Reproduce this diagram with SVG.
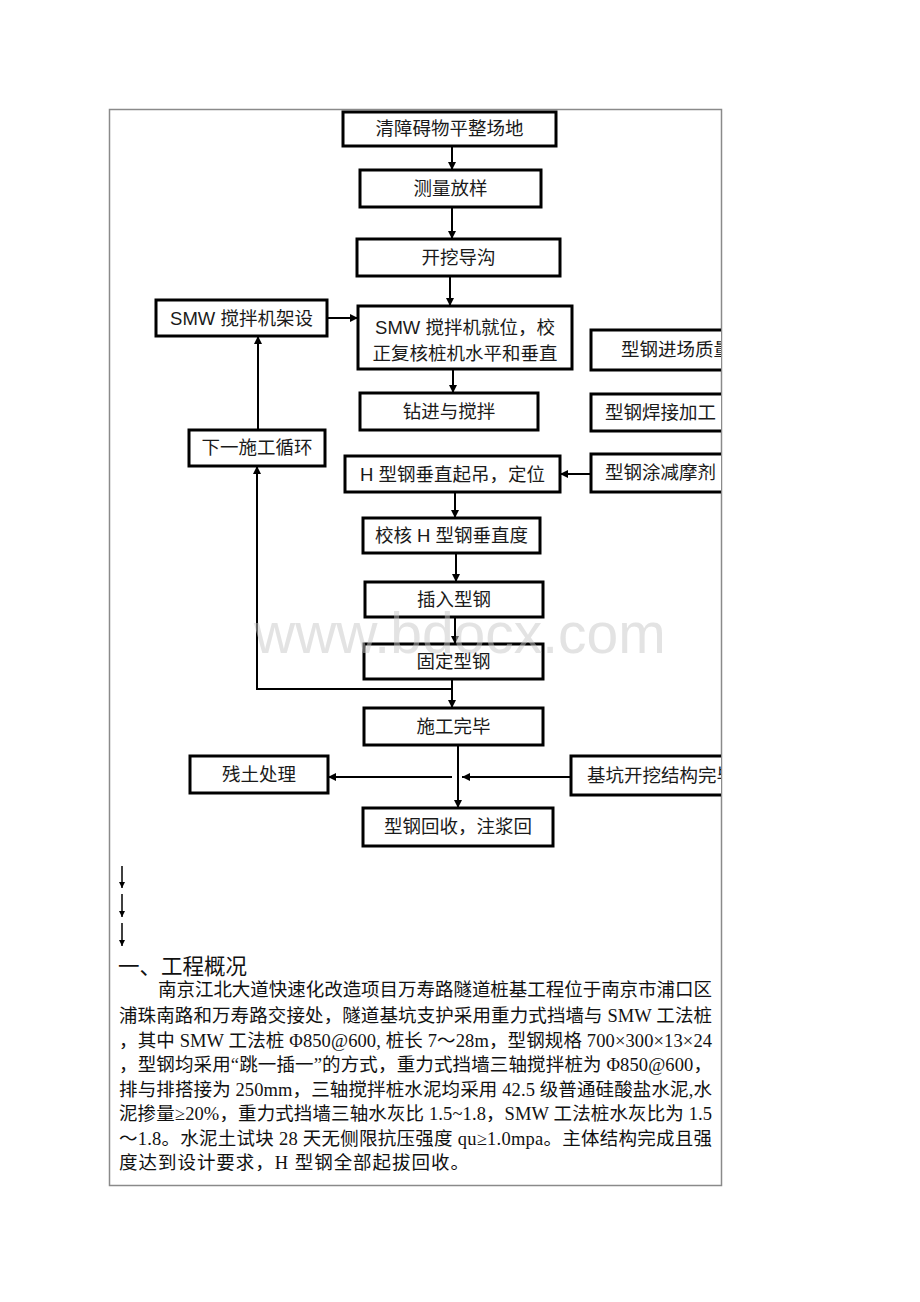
<svg xmlns="http://www.w3.org/2000/svg" width="920" height="1302" viewBox="0 0 920 1302">
<defs>
<style>
.box{fill:#fff;stroke:#000;stroke-width:3}
.t{font-family:"Liberation Serif","Noto Sans CJK SC",serif;font-size:18.5px;fill:#1a1a1a;text-anchor:middle;dominant-baseline:central}
.ts{font-family:"Liberation Sans","Noto Sans CJK SC",sans-serif;font-size:18.5px;fill:#1a1a1a;text-anchor:middle;dominant-baseline:central}
.tl{font-family:"Liberation Serif","Noto Sans CJK SC",serif;font-size:18.5px;fill:#1a1a1a;text-anchor:start;dominant-baseline:central}
.c{fill:none;stroke:#000;stroke-width:2}
.c2{fill:none;stroke:#000;stroke-width:1.5}
.p{font-family:"Liberation Serif","Noto Sans CJK SC",serif;font-size:18.5px;fill:#111}
</style>
<marker id="ah" viewBox="0 0 10 10" refX="10" refY="5" markerWidth="6" markerHeight="6" markerUnits="userSpaceOnUse" orient="auto">
<path d="M0,0 L10,5 L0,10 z" fill="#000"/>
</marker>
<marker id="ah2" viewBox="0 0 10 10" refX="10" refY="5" markerWidth="8" markerHeight="8" markerUnits="userSpaceOnUse" orient="auto">
<path d="M0,0 L10,5 L0,10 z" fill="#000"/>
</marker>
<clipPath id="clipR"><rect x="0" y="0" width="721" height="1302"/></clipPath>
</defs>
<rect x="0" y="0" width="920" height="1302" fill="#fff"/>
<rect x="109.5" y="109.5" width="612" height="1076" fill="none" stroke="#8a8a8a" stroke-width="1.5"/>

<g id="connectors">
<line class="c" x1="452" y1="146" x2="452" y2="170" marker-end="url(#ah2)"/>
<line class="c" x1="452" y1="207" x2="452" y2="239" marker-end="url(#ah2)"/>
<line class="c" x1="450" y1="276" x2="450" y2="306" marker-end="url(#ah2)"/>
<line class="c" x1="327" y1="318" x2="358" y2="318" marker-end="url(#ah2)"/>
<line class="c" x1="453" y1="369" x2="453" y2="393" marker-end="url(#ah2)"/>
<line class="c" x1="258" y1="430" x2="258" y2="336" marker-end="url(#ah2)"/>
<line class="c" x1="591" y1="474" x2="560" y2="474" marker-end="url(#ah2)"/>
<line class="c" x1="455" y1="492" x2="455" y2="518" marker-end="url(#ah2)"/>
<line class="c" x1="456" y1="553" x2="456" y2="582" marker-end="url(#ah2)"/>
<line class="c" x1="455" y1="617" x2="455" y2="644" marker-end="url(#ah2)"/>
<line class="c" x1="452" y1="679" x2="452" y2="708" marker-end="url(#ah2)"/>
<polyline class="c" points="452,689 257,689 257,466" marker-end="url(#ah2)"/>
<line class="c" x1="458" y1="745" x2="458" y2="808" marker-end="url(#ah2)"/>
<line class="c" x1="452" y1="777" x2="328" y2="777" marker-end="url(#ah2)"/>
<line class="c" x1="571" y1="777" x2="462" y2="777" marker-end="url(#ah2)"/>
<line class="c2" x1="122" y1="866" x2="122" y2="888" marker-end="url(#ah)"/>
<line class="c2" x1="122" y1="894" x2="122" y2="917" marker-end="url(#ah)"/>
<line class="c2" x1="122" y1="923" x2="122" y2="946" marker-end="url(#ah)"/>
</g>

<g id="n1"><rect class="box" x="343" y="112" width="213" height="34"/><text class="t" x="449.5" y="129">清障碍物平整场地</text></g>
<g id="n2"><rect class="box" x="360" y="170" width="181" height="37"/><text class="t" x="450.5" y="188.5">测量放样</text></g>
<g id="n3"><rect class="box" x="357" y="239" width="203" height="37"/><text class="t" x="458.5" y="257.5">开挖导沟</text></g>
<g id="n4"><rect class="box" x="156" y="300" width="171" height="36"/><text class="ts" x="241.5" y="318">SMW 搅拌机架设</text></g>
<g id="n5"><rect class="box" x="358" y="306" width="214" height="63"/><text class="ts" x="465" y="327">SMW 搅拌机就位，校</text><text class="ts" x="465" y="353">正复核桩机水平和垂直</text></g>
<g id="n6" clip-path="url(#clipR)"><rect class="box" x="591" y="330" width="160" height="40"/><text class="tl" x="621" y="350">型钢进场质量</text></g>
<g id="n7"><rect class="box" x="360" y="393" width="178" height="37"/><text class="t" x="449" y="411.5">钻进与搅拌</text></g>
<g id="n8" clip-path="url(#clipR)"><rect class="box" x="591" y="394" width="160" height="37"/><text class="tl" x="605" y="412.5">型钢焊接加工</text></g>
<g id="n9"><rect class="box" x="189" y="430" width="136" height="36"/><text class="t" x="257" y="448">下一施工循环</text></g>
<g id="n10"><rect class="box" x="345" y="456" width="215" height="36"/><text class="ts" x="452.5" y="474">H 型钢垂直起吊，定位</text></g>
<g id="n11" clip-path="url(#clipR)"><rect class="box" x="591" y="454" width="160" height="38"/><text class="tl" x="605" y="473">型钢涂减摩剂</text></g>
<g id="n12"><rect class="box" x="363" y="518" width="177" height="35"/><text class="ts" x="451.5" y="535.5">校核 H 型钢垂直度</text></g>
<g id="n13"><rect class="box" x="365" y="582" width="178" height="35"/><text class="t" x="454" y="599.5">插入型钢</text></g>
<g id="n14"><rect class="box" x="364" y="644" width="179" height="35"/><text class="t" x="453.5" y="661.5">固定型钢</text></g>
<g id="n15"><rect class="box" x="364" y="708" width="179" height="37"/><text class="t" x="453.5" y="726.5">施工完毕</text></g>
<g id="n16"><rect class="box" x="190" y="756" width="138" height="37"/><text class="t" x="259" y="774.5">残土处理</text></g>
<g id="n17" clip-path="url(#clipR)"><rect class="box" x="571" y="756" width="180" height="39"/><text class="tl" x="587" y="775.5">基坑开挖结构完毕</text></g>
<g id="n18"><rect class="box" x="363" y="808" width="190" height="38"/><text class="t" x="458" y="827">型钢回收，注浆回</text></g>

<g id="overview">
<text x="118" y="974" font-family="Liberation Serif,'Noto Sans CJK SC',serif" font-size="21.5" fill="#111">一、工程概况</text>
<text class="p" x="158" y="996" textLength="554" lengthAdjust="spacing">南京江北大道快速化改造项目万寿路隧道桩基工程位于南京市浦口区</text>
<text class="p" x="119" y="1022" textLength="593" lengthAdjust="spacing">浦珠南路和万寿路交接处，隧道基坑支护采用重力式挡墙与 SMW 工法桩</text>
<text class="p" x="119" y="1047" textLength="593" lengthAdjust="spacing">，其中 SMW 工法桩 Φ850@600, 桩长 7～28m，型钢规格 700×300×13×24</text>
<text class="p" x="119" y="1071" textLength="593" lengthAdjust="spacing">，型钢均采用“跳一插一”的方式，重力式挡墙三轴搅拌桩为 Φ850@600，</text>
<text class="p" x="119" y="1096" textLength="593" lengthAdjust="spacing">排与排搭接为 250mm，三轴搅拌桩水泥均采用 42.5 级普通硅酸盐水泥,水</text>
<text class="p" x="119" y="1120" textLength="593" lengthAdjust="spacing">泥掺量≥20%，重力式挡墙三轴水灰比 1.5~1.8，SMW 工法桩水灰比为 1.5</text>
<text class="p" x="119" y="1145" textLength="593" lengthAdjust="spacing">～1.8。水泥土试块 28 天无侧限抗压强度 qu≥1.0mpa。主体结构完成且强</text>
<text class="p" x="119" y="1169" textLength="350" lengthAdjust="spacing">度达到设计要求，H 型钢全部起拔回收。</text>
</g>

<text x="254" y="653" font-family="Liberation Sans,Arial,sans-serif" font-size="57" fill="#c8c8c8" fill-opacity="0.5">www.bdocx.com</text>
</svg>
